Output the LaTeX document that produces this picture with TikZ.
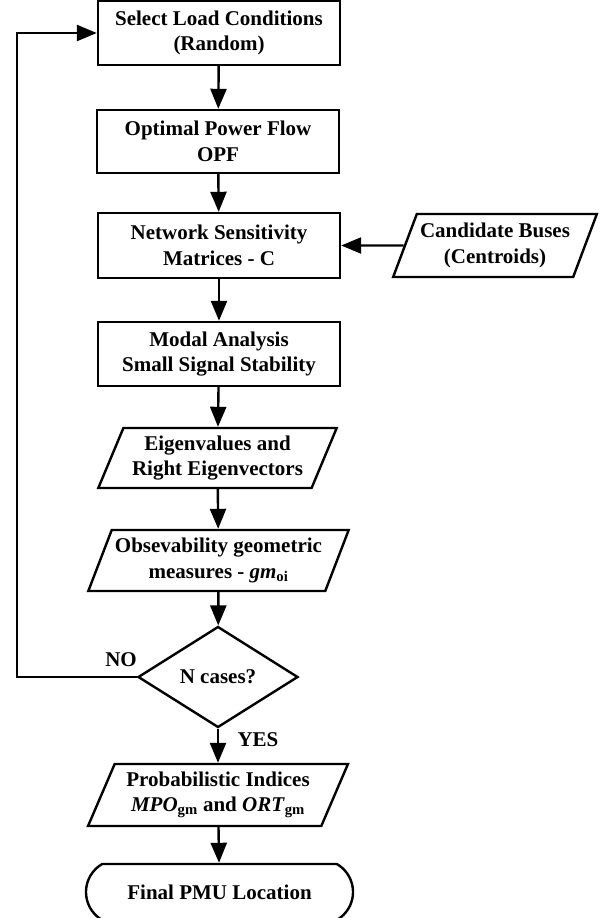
\documentclass[tikz,border=0pt]{standalone}
\usepackage{fontspec}
\setmainfont{Liberation Serif}
\usetikzlibrary{shapes.geometric,shapes.misc,arrows.meta,positioning,calc}

\begin{document}
\begin{tikzpicture}[x=1pt, y=-1pt, line width=2.4pt,
    every node/.style={font=\fontsize{21}{25.5}\selectfont\bfseries, align=center},
    procbox/.style={rectangle, draw, minimum width=242pt, minimum height=64pt, inner sep=0pt},
    databox/.style={trapezium, trapezium left angle=63, trapezium right angle=117,
        trapezium stretches=true, draw, inner sep=0pt},
    decision/.style={diamond, draw, shape aspect=1.6, minimum width=160pt, minimum height=101pt, inner sep=0pt},
    termbox/.style={rounded rectangle, rounded rectangle arc length=120, draw,
        minimum width=267pt, minimum height=56pt, inner sep=0pt},
    flow/.style={-{Triangle[length=20pt,width=16pt]}}]
    \useasboundingbox (0,0) rectangle (608,918);

    % Nodes (main column)
    \node[procbox] (sel) at (219,33) {Select Load Conditions\\(Random)};
    \node[procbox, minimum height=63pt] (opf) at (218,141.5) {Optimal Power Flow\\OPF};
    \node[procbox, minimum height=65pt] (sens) at (219,245.5) {Network Sensitivity\\Matrices - C};
    \node[procbox] (modal) at (219,354) {Modal Analysis\\Small Signal Stability};
    \node[databox, minimum width=239pt, minimum height=60pt] (eig) at (217.5,458) {Eigenvalues and\\Right Eigenvectors};
    \node[databox, minimum width=261pt, minimum height=61pt] (obs) at (218.5,560.5)
        {Obsevability geometric\\measures - \textit{gm}\textsubscript{oi}};
    \node[decision] (cases) at (218,677) {N cases?};
    \node[databox, minimum width=260pt, minimum height=62pt] (prob) at (218,795)
        {Probabilistic Indices\\\textit{MPO}\textsubscript{gm} and \textit{ORT}\textsubscript{gm}};
    \node[termbox] (final) at (219.5,892) {Final PMU Location};

    % Side input
    \node[databox, minimum width=204pt, minimum height=63pt] (cand) at (495,245.5) {Candidate Buses\\(Centroids)};

    % Links
    \draw[flow] (sel) -- (opf);
    \draw[flow] (opf) -- (sens);
    \draw[flow] (sens) -- (modal);
    \draw[flow] (modal) -- (eig);
    \draw[flow] (eig) -- (obs);
    \draw[flow] (obs) -- (cases);
    \draw[flow] (cases) -- (prob);
    \draw[flow] (prob) -- (final);
    \draw[flow] (cand.west) -- (sens.east);

    % Loop back (NO)
    \coordinate (back) at (17,677);
    \draw[flow] (cases.west) -- (back) |- (sel.west);

    % Labels
    \node (no) at (121,660) {NO};
    \node (yes) at (258,740) {YES};
\end{tikzpicture}
\end{document}
